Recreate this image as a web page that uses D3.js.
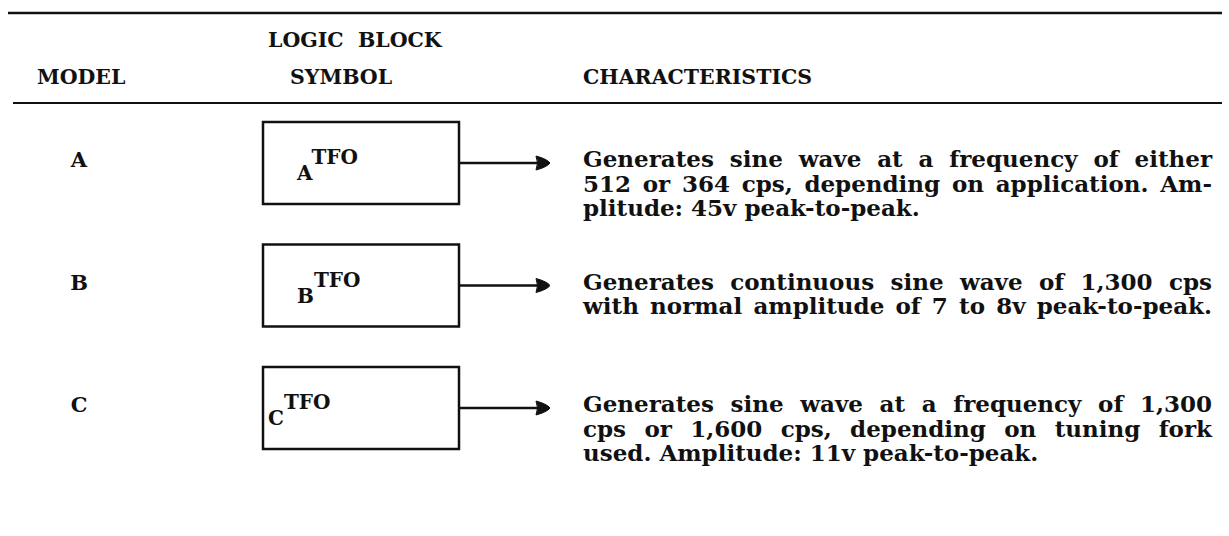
<!DOCTYPE html>
<html>
<head>
<meta charset="utf-8">
<script src="https://cdn.jsdelivr.net/npm/d3@7"></script>
<style>
  html, body { margin: 0; background: #fff; }
  svg { display: block; }
</style>
</head>
<body>
<div id="chart"></div>
<script>
// table content
const headTop = ['', 'LOGIC  BLOCK', ''];
const headBottom = ['MODEL', 'SYMBOL', 'CHARACTERISTICS'];
const models = ['A', 'B', 'C'];
const symbols = ['TFO', 'TFO', 'TFO'];
const descriptions = [
  ['Generates sine wave at a frequency of either',
   '512 or 364 cps, depending on application. Am-',
   'plitude: 45v peak-to-peak.'],
  ['Generates continuous sine wave of 1,300 cps',
   'with normal amplitude of 7 to 8v peak-to-peak.'],
  ['Generates sine wave at a frequency of 1,300',
   'cps or 1,600 cps, depending on tuning fork',
   'used. Amplitude: 11v peak-to-peak.']
];

const width = 1229, height = 536;
const ink = '#111';
const font = "'DejaVu Serif', serif";

const svg = d3.select('#chart').append('svg')
  .attr('width', width)
  .attr('height', height)
  .style('background', '#fff');

// column layout
const col = d3.scaleOrdinal()
  .domain(['model', 'symbol', 'text'])
  .range([79, 268, 583]);
const textRight = 1212;
const colW = textRight - col('text');
const boxLeft = 263, boxRight = 459;

// typewriter grid: every row takes five lines
const rowLines = 5;
const y = d3.scaleLinear().domain([0, 1]).range([167, 191.5]);

// rules
svg.append('line').attr('x1', 8).attr('x2', 1222).attr('y1', 13).attr('y2', 13)
  .attr('stroke', ink).attr('stroke-width', 2.5);
svg.append('line').attr('x1', 13).attr('x2', 1222).attr('y1', 103).attr('y2', 103)
  .attr('stroke', ink).attr('stroke-width', 2);

// headers
const headX = [37, col('symbol'), col('text')];
headTop.forEach((t, i) => {
  if (!t) return;
  svg.append('text').attr('x', headX[i]).attr('y', 47)
    .style('font-family', font).style('font-weight', 'bold').style('font-size', '20.5px')
    .style('white-space', 'pre').style('fill', ink)
    .text(t);
});
headBottom.forEach((t, i) => {
  svg.append('text').attr('x', i === 1 ? headX[i] + 22 : headX[i]).attr('y', 84)
    .style('font-family', font).style('font-weight', 'bold').style('font-size', '20.5px')
    .style('fill', ink)
    .text(t);
});

// measuring helper
const probe = svg.append('text')
  .style('font-family', font).style('font-weight', 'bold');
function measure(s, size) {
  probe.style('font-size', size + 'px').text(s);
  return probe.node().getComputedTextLength();
}

// body size: widest closing line fits the column
const lastLines = descriptions.map(d => d[d.length - 1]);
const widest = d3.max(lastLines, s => measure(s, 20));
const bodySize = Math.min(23, 20 * colW / widest);

const rows = svg.append('g');

models.forEach((m, i) => {
  const y0 = y(i * rowLines);
  const ay = y0 - 4;
  const g = rows.append('g');

  // model letter
  g.append('text').attr('x', col('model')).attr('y', y0)
    .attr('text-anchor', 'middle')
    .style('font-family', font).style('font-weight', 'bold').style('font-size', '21px')
    .style('fill', ink)
    .text(m);

  // logic block box
  g.append('rect')
    .attr('x', boxLeft).attr('y', ay - 41)
    .attr('width', boxRight - boxLeft).attr('height', 82)
    .attr('fill', 'none').attr('stroke', ink).attr('stroke-width', 2.5);

  // symbol: letter with raised TFO
  const sx = m === 'C' ? 268 : 297;
  const sym = g.append('text').attr('x', sx).attr('y', ay + 17)
    .style('font-family', font).style('font-weight', 'bold').style('font-size', '20px')
    .style('fill', ink);
  sym.append('tspan').text(m);
  sym.append('tspan').attr('dy', -16).text(symbols[i]);

  // output arrow
  const tip = boxRight + 91;
  g.append('line').attr('x1', boxRight).attr('x2', tip - 10).attr('y1', ay).attr('y2', ay)
    .attr('stroke', ink).attr('stroke-width', 2.5);
  g.append('path')
    .attr('d', `M${tip - 14},${ay - 7} Q${tip - 3},${ay - 4} ${tip},${ay} Q${tip - 3},${ay + 4} ${tip - 14},${ay + 7} Q${tip - 11},${ay} ${tip - 14},${ay - 7}Z`)
    .attr('fill', ink).attr('stroke', ink).attr('stroke-width', 1).attr('stroke-linejoin', 'round');

  // characteristics, justified
  descriptions[i].forEach((line, j) => {
    const ly = y(i * rowLines + j);
    const isLast = j === descriptions[i].length - 1;
    const natural = measure(line, bodySize);
    const t = g.append('text').attr('y', ly)
      .style('font-family', font).style('font-weight', 'bold')
      .style('font-size', bodySize + 'px').style('fill', ink);
    if (isLast && natural < colW * 0.9) {
      t.attr('x', col('text')).text(line);
      return;
    }
    const words = line.split(' ');
    const ws = words.map(w => measure(w, bodySize));
    const gap = (colW - d3.sum(ws)) / (words.length - 1);
    let x = col('text');
    words.forEach((w, k) => {
      t.append('tspan').attr('x', x).text(w);
      x += ws[k] + gap;
    });
  });
});

probe.remove();
</script>
</body>
</html>
